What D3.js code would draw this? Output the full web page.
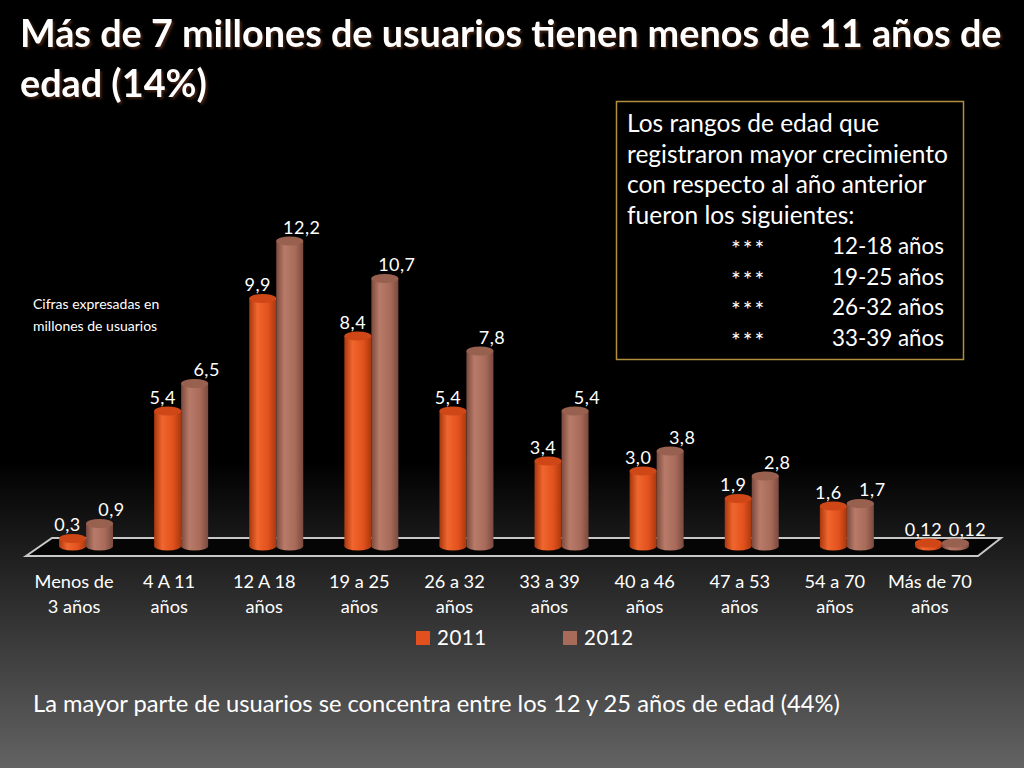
<!DOCTYPE html>
<html>
<head>
<meta charset="utf-8">
<script src="https://cdn.jsdelivr.net/npm/d3@7"></script>
<style>
  body { margin: 0; background: #000; }
  svg { display: block; }
</style>
</head>
<body>
<div id="chart"></div>
<script>
const width = 1024;
const height = 768;

// Data
const categories = ["Menos de|3 años", "4 A 11|años", "12 A 18|años", "19 a 25|años", "26 a 32|años",
                    "33 a 39|años", "40 a 46|años", "47 a 53|años", "54 a 70|años", "Más de 70|años"];
const series = ["2011", "2012"];
const values2011 = [0.3, 5.4, 9.9, 8.4, 5.4, 3.4, 3.0, 1.9, 1.6, 0.12];
const values2012 = [0.9, 6.5, 12.2, 10.7, 7.8, 5.4, 3.8, 2.8, 1.7, 0.12];
const boxLines = ["Los rangos de edad que", "registraron mayor crecimiento",
                  "con respecto al año anterior", "fueron los siguientes:"];
const boxRanges = ["12-18 años", "19-25 años", "26-32 años", "33-39 años"];

const font = "Lato, 'Open Sans', sans-serif";

const svg = d3.select("#chart").append("svg")
    .attr("width", width)
    .attr("height", height)
    .attr("viewBox", [0, 0, width, height]);

const defs = svg.append("defs");

// background: black, fading to grey at the bottom
const bg = defs.append("linearGradient").attr("id", "bg")
    .attr("x1", 0).attr("y1", 0).attr("x2", 0).attr("y2", 1);
bg.append("stop").attr("offset", 0).attr("stop-color", "#000");
bg.append("stop").attr("offset", 0.6).attr("stop-color", "#000");
bg.append("stop").attr("offset", 1).attr("stop-color", "#636363");
svg.append("rect").attr("width", width).attr("height", height).attr("fill", "url(#bg)");

// cylinder side shading per series
const colors = {
  "2011": { dark: "#a8380e", mid: "#e2511d", light: "#f0662e", top: "#cf4617" },
  "2012": { dark: "#7a4a3e", mid: "#a86b5a", light: "#b97b69", top: "#98604f" }
};
series.forEach(s => {
  const c = colors[s];
  const g = defs.append("linearGradient").attr("id", "side" + s)
      .attr("x1", 0).attr("y1", 0).attr("x2", 1).attr("y2", 0);
  g.append("stop").attr("offset", 0).attr("stop-color", c.dark);
  g.append("stop").attr("offset", 0.3).attr("stop-color", c.light);
  g.append("stop").attr("offset", 0.7).attr("stop-color", c.mid);
  g.append("stop").attr("offset", 1).attr("stop-color", c.dark);
});

// shrink/grow a text so it spans a given width
function fitWidth(sel, target) {
  const node = sel.node();
  const fs = parseFloat(sel.attr("font-size"));
  const w = node.getComputedTextLength();
  sel.attr("font-size", (fs * target / w).toFixed(2));
  return sel.attr("font-size");
}

// Title
const title = svg.append("g").attr("font-family", font).attr("font-weight", "bold")
    .attr("fill", "#fff");
const t1 = title.append("text").attr("x", 20).attr("y", 47).attr("font-size", 36)
    .style("filter", "drop-shadow(2px 2px 1px rgba(80,40,20,0.8))")
    .text("Más de 7 millones de usuarios tienen menos de 11 años de");
fitWidth(t1, 982);
title.append("text").attr("x", 20).attr("y", 97).attr("font-size", t1.attr("font-size"))
    .style("filter", "drop-shadow(2px 2px 1px rgba(80,40,20,0.8))")
    .text("edad (14%)");

// Scales
const x = d3.scaleBand().domain(categories).range([26.5, 977.5]).padding(0);
const depth = 12; // bars sit half-way into the floor
const barW = 27;
const xs = d3.scaleBand().domain(series).range([0, barW * 2]);
const y = d3.scaleLinear().domain([0, 14]).range([546, 196]);

// floor
svg.append("polygon")
    .attr("points", [[26, 556], [52, 538], [1001, 538], [978, 556]].join(" "))
    .attr("fill", "#050505")
    .attr("stroke", "#c8c8c8")
    .attr("stroke-width", 2);

// bars as cylinders
const rows = categories.map((c, i) => ({ cat: c, vals: [values2011[i], values2012[i]] }));
const ry = 4.5;
const groups = svg.append("g").selectAll("g").data(rows).join("g")
    .attr("transform", d => `translate(${x(d.cat) + x.bandwidth() / 2 + depth - barW},0)`);

groups.each(function(d) {
  const g = d3.select(this);
  series.forEach((s, k) => {
    const v = d.vals[k];
    const x0 = xs(s), cx = x0 + barW / 2;
    const yTop = y(v), yBase = y(0);
    g.append("ellipse").attr("cx", cx).attr("cy", yBase).attr("rx", barW / 2).attr("ry", ry)
        .attr("fill", `url(#side${s})`);
    g.append("rect").attr("x", x0).attr("y", yTop).attr("width", barW).attr("height", yBase - yTop)
        .attr("fill", `url(#side${s})`);
    g.append("ellipse").attr("cx", cx).attr("cy", yTop).attr("rx", barW / 2).attr("ry", ry)
        .attr("fill", colors[s].top);
    g.append("text")
        .attr("x", cx + (k === 0 ? -5 : 12))
        .attr("y", yTop - ry - 3)
        .attr("text-anchor", "middle")
        .attr("font-family", font).attr("font-size", 18).attr("fill", "#fff")
        .attr("letter-spacing", 0.5)
        .text(d3.format(v < 0.2 ? ".2f" : ".1f")(v).replace(".", ","));
  });
});

// category labels
const xAxis = svg.append("g").attr("font-family", font).attr("font-size", 16).attr("fill", "#fff")
    .attr("text-anchor", "middle");
const probe = xAxis.append("text").attr("font-size", 16).text("Menos de");
const catFs = fitWidth(probe, 79);
probe.remove();
xAxis.attr("font-size", catFs);
categories.forEach(c => {
  const t = xAxis.append("text").attr("x", x(c) + x.bandwidth() / 2).attr("y", 588);
  c.split("|").forEach((line, i) => {
    t.append("tspan").attr("x", x(c) + x.bandwidth() / 2).attr("dy", i ? 25 : 0).text(line);
  });
});

// legend
const legend = svg.append("g").attr("font-family", font).attr("font-size", 20.5).attr("fill", "#fff");
[[416, "2011"], [563, "2012"]].forEach(([lx, s]) => {
  legend.append("rect").attr("x", lx).attr("y", 631).attr("width", 14).attr("height", 14)
      .attr("fill", colors[s].mid);
  legend.append("text").attr("x", lx + 21).attr("y", 645).attr("letter-spacing", 0.5).text(s);
});

// note on units
const note = svg.append("g").attr("font-family", font).attr("font-size", 14).attr("fill", "#fff");
const n1 = note.append("text").attr("x", 33).attr("y", 309).text("Cifras expresadas en");
const noteFs = fitWidth(n1, 141);
note.append("text").attr("x", 33).attr("y", 331).attr("font-size", noteFs).text("millones de usuarios");

// boxed comment
svg.append("rect").attr("x", 616.5).attr("y", 101.5).attr("width", 347).attr("height", 258)
    .attr("fill", "#000").attr("stroke", "#b08f3e").attr("stroke-width", 1.5);
const box = svg.append("g").attr("font-family", font).attr("fill", "#fff");
const boxTexts = boxLines.map((l, i) =>
  box.append("text").attr("x", 627).attr("y", 132 + i * 30.5).attr("font-size", 22).text(l));
const boxFs = fitWidth(boxTexts[1], 321);
boxTexts.forEach(t => t.attr("font-size", boxFs));
boxRanges.forEach((r, i) => {
  const yy = 254 + i * 30.5;
  box.append("text").attr("x", 731).attr("y", yy + 3).attr("font-size", 23)
      .attr("letter-spacing", 2).text("***");
  const rt = box.append("text").attr("x", 832).attr("y", yy).attr("font-size", boxFs).text(r);
  fitWidth(rt, 112);
});

// bottom sentence
const foot = svg.append("text").attr("x", 33).attr("y", 712)
    .attr("font-family", font).attr("font-size", 21).attr("fill", "#fff")
    .text("La mayor parte de usuarios se concentra entre los 12 y 25 años de edad (44%)");
fitWidth(foot, 807);
</script>
</body>
</html>
